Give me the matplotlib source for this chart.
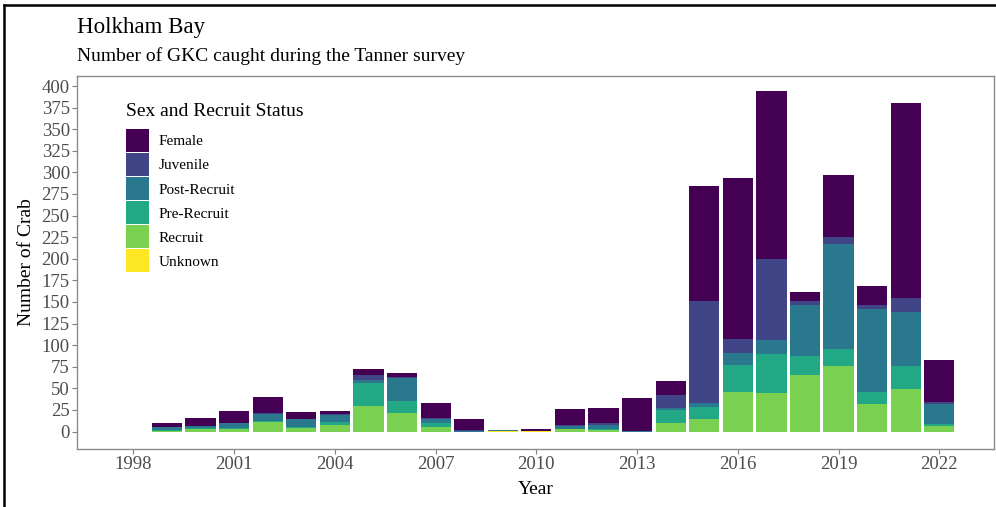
import matplotlib
matplotlib.use('Agg')
import matplotlib.pyplot as plt
from matplotlib.lines import Line2D
import numpy as np

# Datos (número de cangrejos por año y categoría)
years = list(range(1999, 2023))
female = [5, 9, 14, 19, 8, 4, 6, 5, 17, 13, 0, 2, 18, 17, 38, 17, 133, 187, 194, 11, 72, 22, 225, 49]
juvenile = [0, 0, 0, 1, 0, 1, 6, 1, 1, 1, 0, 0, 1, 2, 0, 15, 118, 16, 94, 5, 8, 4, 17, 2]
post_recruit = [3, 3, 6, 8, 10, 8, 4, 27, 5, 1, 1, 0, 4, 5, 1, 2, 5, 14, 16, 58, 122, 96, 62, 23]
pre_recruit = [1, 1, 1, 1, 1, 3, 26, 13, 5, 0, 0, 0, 0, 1, 0, 15, 13, 31, 45, 23, 19, 14, 27, 2]
recruit = [1, 3, 3, 11, 4, 8, 30, 22, 5, 0, 0, 0, 3, 2, 0, 10, 15, 46, 45, 65, 76, 32, 49, 7]
unknown = [0, 0, 0, 0, 0, 0, 0, 0, 0, 0, 1, 1, 0, 0, 0, 0, 0, 0, 0, 0, 0, 0, 0, 0]

labels = ['Female', 'Juvenile', 'Post-Recruit', 'Pre-Recruit', 'Recruit', 'Unknown']
colors = ['#440154', '#414487', '#2A788E', '#22A884', '#7AD151', '#FDE725']

xticks = [1998, 2001, 2004, 2007, 2010, 2013, 2016, 2019, 2022]
yticks = list(range(0, 401, 25))

plt.rcParams['font.family'] = ['Liberation Serif', 'DejaVu Serif']

fig = plt.figure(figsize=(9.96, 5.07), dpi=100)
ax = fig.add_axes([0.077, 0.1144, 0.921, 0.7357])

# Barras apiladas: Unknown abajo, Female arriba
series = [unknown, recruit, pre_recruit, post_recruit, juvenile, female]
series_colors = colors[::-1]
series_labels = labels[::-1]
bottom = np.zeros(len(years))
handles = {}
for vals, col, lab in zip(series, series_colors, series_labels):
    bars = ax.bar(years, vals, width=0.9, bottom=bottom, color=col, edgecolor='none', label=lab)
    handles[lab] = bars
    bottom += np.array(vals)

# Ejes
ax.set_xlim(1996.31, 2023.63)
ax.set_ylim(-20.2, 411.6)
ax.set_xticks(xticks)
ax.set_yticks(yticks)
ax.tick_params(axis='both', colors='#7f7f7f', labelcolor='#4d4d4d', labelsize=13.5, length=3.5, width=0.8, pad=1.5)
for s in ax.spines.values():
    s.set_color('#8c8c8c')
    s.set_linewidth(1.0)

ax.set_xlabel('Year', fontsize=14, labelpad=6)
ax.set_ylabel('Number of Crab', fontsize=14, labelpad=5)

# Títulos
fig.text(0.0773, 0.935, 'Holkham Bay', fontsize=16.5, va='baseline', ha='left')
fig.text(0.0773, 0.880, 'Number of GKC caught during the Tanner survey', fontsize=14, va='baseline', ha='left')

# Leyenda (título aparte para dejar el hueco como en ggplot)
fig.text(0.1265, 1 - 111 / 507, 'Sex and Recruit Status', fontsize=14, va='center', ha='left')
leg = ax.legend([handles[l] for l in labels], labels,
                loc='upper left', bbox_to_anchor=(0.1265, 1 - 129 / 507), bbox_transform=fig.transFigure,
                frameon=False, fontsize=11, handlelength=1.5, handleheight=1.94,
                labelspacing=0.07, handletextpad=0.65, borderpad=0, borderaxespad=0)

# Marco negro de la imagen
fig.add_artist(Line2D([4 / 996, 4 / 996], [0, 1 - 5 / 507], color='black', linewidth=1.8, transform=fig.transFigure))
fig.add_artist(Line2D([4 / 996, 1], [1 - 5 / 507, 1 - 5 / 507], color='black', linewidth=1.8, transform=fig.transFigure))

fig.savefig('out.png', dpi=100)
